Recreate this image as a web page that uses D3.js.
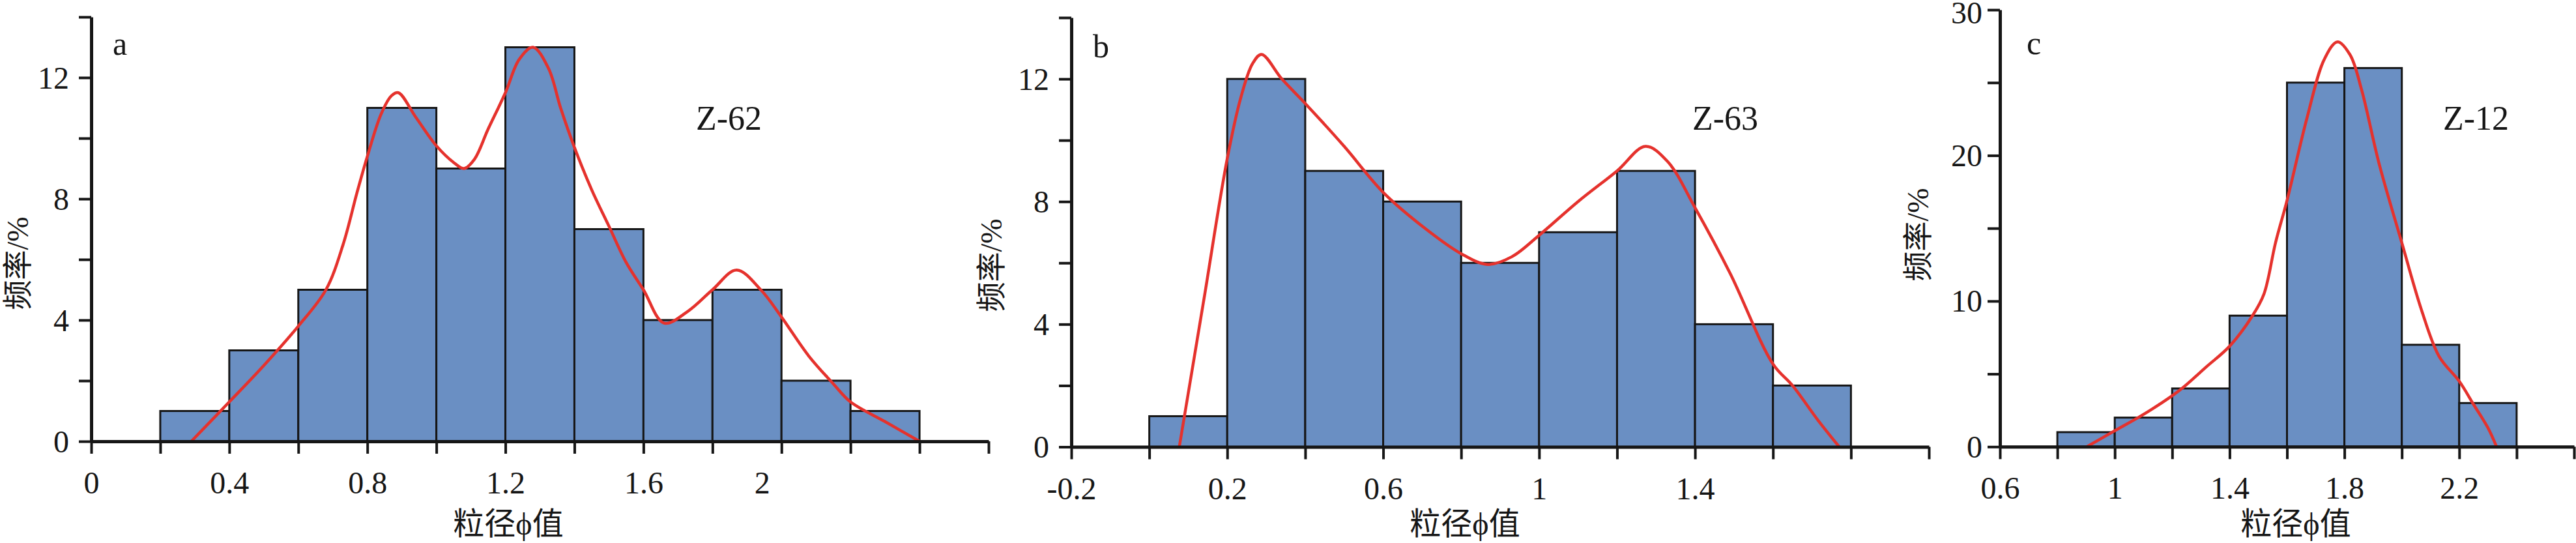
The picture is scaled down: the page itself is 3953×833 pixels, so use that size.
<!DOCTYPE html>
<html><head><meta charset="utf-8">
<script src="https://cdn.jsdelivr.net/npm/d3@7/dist/d3.min.js"></script>
<style>html,body{margin:0;padding:0;background:#fff;} svg{display:block;background:#fff;}</style>
</head><body><svg id="chart" width="3953" height="833"></svg>
<script>
// ---------- DATA ----------
// Panel a (Z-62)
const aBinStart = [0.2,0.4,0.6,0.8,1.0,1.2,1.4,1.6,1.8,2.0,2.2];
const aFreq     = [1,3,5,11,9,13,7,4,5,2,1];
const aCurveX = [0.29,0.4,0.5,0.6,0.68,0.73,0.77,0.8,0.84,0.87,0.89,0.94,1.0,1.05,1.08,1.11,1.15,1.2,1.24,1.28,1.325,1.36,1.4,1.45,1.5,1.55,1.6,1.66,1.73,1.8,1.87,1.94,2.0,2.08,2.15,2.2,2.3,2.4];
const aCurveY = [0,1.3,2.5,3.8,5.0,6.5,8.2,9.4,10.8,11.4,11.5,10.7,9.75,9.2,9.0,9.3,10.3,11.5,12.6,13.0,12.3,11.0,9.7,8.3,7.1,5.9,5.0,3.9,4.3,5.0,5.65,5.0,4.1,2.8,1.9,1.3,0.65,0];
const aXTicks = [0,0.2,0.4,0.6,0.8,1.0,1.2,1.4,1.6,1.8,2.0,2.2,2.4,2.6];
const aXLabelVals = [0,0.4,0.8,1.2,1.6,2];
const aXLabels = ["0","0.4","0.8","1.2","1.6","2"];
const aYTicks = [0,2,4,6,8,10,12,14];
const aYLabelVals = [0,4,8,12];
const aYLabels = ["0","4","8","12"];

// Panel b (Z-63)
const bBinStart = [0.0,0.2,0.4,0.6,0.8,1.0,1.2,1.4,1.6];
const bFreq     = [1,12,9,8,6,7,9,4,2];
const bCurveX = [0.077,0.14,0.2,0.235,0.265,0.288,0.34,0.4,0.5,0.6,0.71,0.8,0.868,0.93,1.0,1.1,1.2,1.273,1.33,1.4,1.49,1.6,1.65,1.716,1.77];
const bCurveY = [0,4.8,9.4,11.4,12.5,12.8,12.0,11.2,9.8,8.3,7.1,6.3,5.95,6.2,6.9,8.0,9.0,9.8,9.3,7.8,5.66,2.7,2.0,0.86,0];
const bXTicks = [-0.2,0,0.2,0.4,0.6,0.8,1.0,1.2,1.4,1.6,1.8,2.0];
const bXLabelVals = [-0.2,0.2,0.6,1,1.4];
const bXLabels = ["-0.2","0.2","0.6","1","1.4"];
const bYTicks = [0,2,4,6,8,10,12,14];
const bYLabelVals = [0,4,8,12];
const bYLabels = ["0","4","8","12"];

// Panel c (Z-12)
const cBinStart = [0.8,1.0,1.2,1.4,1.6,1.8,2.0,2.2];
const cFreq     = [1,2,4,9,25,26,7,3];
const cCurveX = [0.903,1.0,1.09,1.2,1.24,1.32,1.4,1.48,1.52,1.56,1.6,1.67,1.73,1.776,1.82,1.86,1.92,2.0,2.07,2.13,2.2,2.25,2.3,2.33];
const cCurveY = [0,1.1,2.1,3.5,4.1,5.5,6.9,9.0,10.5,14.0,16.9,22.6,26.6,27.8,26.9,24.5,19.5,14.0,9.3,6.2,4.5,2.9,1.3,0];
const cXTicks = [0.6,0.8,1.0,1.2,1.4,1.6,1.8,2.0,2.2,2.4,2.6];
const cXLabelVals = [0.6,1,1.4,1.8,2.2];
const cXLabels = ["0.6","1","1.4","1.8","2.2"];
const cYTicks = [0,5,10,15,20,25,30];
const cYLabelVals = [0,10,20,30];
const cYLabels = ["0","10","20","30"];

const binWidth = 0.2;
const xTitle = "粒径ϕ值";
const yTitle = "频率/%";

// ---------- DRAW ----------
const svg = d3.select("#chart");
const FONT = '"Liberation Serif","Times New Roman",serif';
const TFONT = '"Liberation Serif","DejaVu Serif","Noto Sans CJK SC",serif';
const INK = "#161616";

function labelFor(v, vals, labels) {
  const i = vals.findIndex(a => Math.abs(a - v) < 1e-9);
  return i >= 0 ? labels[i] : "";
}

function drawPanel(p) {
  const x = d3.scaleLinear().domain(p.xDomain).range(p.xRange);
  const y = d3.scaleLinear().domain(p.yDomain).range(p.yRange);
  const g = svg.append("g");

  g.selectAll("rect.bar")
    .data(p.binStart.map((s, i) => ({ s: s, f: p.freq[i] })))
    .join("rect").attr("class", "bar")
    .attr("x", d => x(d.s))
    .attr("width", d => x(d.s + binWidth) - x(d.s))
    .attr("y", d => y(d.f))
    .attr("height", d => y(0) - y(d.f))
    .attr("fill", "#6a8fc3")
    .attr("stroke", INK).attr("stroke-width", 3);

  const line = d3.line().x(d => x(d[0])).y(d => y(d[1]))
    .curve(d3.curveCatmullRom.alpha(0.5));
  g.append("path")
    .datum(p.curveX.map((v, i) => [v, p.curveY[i]]))
    .attr("d", line).attr("fill", "none")
    .attr("stroke", "#e5322d").attr("stroke-width", 4.5)
    .attr("stroke-linejoin", "round").attr("stroke-linecap", "round");

  const xAxis = d3.axisBottom(x).tickValues(p.xTicks).tickSize(19).tickSizeOuter(0)
    .tickFormat(v => labelFor(v, p.xLabelVals, p.xLabels));
  const gx = g.append("g").attr("transform", `translate(0,${y(0)})`).call(xAxis);
  gx.select(".domain").attr("stroke", INK).attr("stroke-width", 5);
  gx.selectAll(".tick line").attr("stroke", INK).attr("stroke-width", 4);
  gx.selectAll(".tick text")
    .attr("y", 80).attr("dy", 0)
    .attr("dx", v => (p.xNudge && Math.abs(v - p.xNudge.v) < 1e-9) ? p.xNudge.dx : 0)
    .attr("font-family", FONT).attr("font-size", 48).attr("fill", INK);

  const yAxis = d3.axisLeft(y).tickValues(p.yTicks).tickSize(19).tickSizeOuter(0)
    .tickPadding(p.yPad)
    .tickFormat(v => labelFor(v, p.yLabelVals, p.yLabels));
  const gy = g.append("g").attr("transform", `translate(${x(p.xDomain[0])},0)`).call(yAxis);
  gy.select(".domain").attr("stroke", INK).attr("stroke-width", 5);
  gy.selectAll(".tick line").attr("stroke", INK).attr("stroke-width", 4);
  gy.selectAll(".tick text")
    .attr("dy", v => (p.yNudge && Math.abs(v - p.yNudge.v) < 1e-9) ? (16 + p.yNudge.dy) + "px" : "16px")
    .attr("font-family", FONT).attr("font-size", 48).attr("fill", INK);

  g.append("text").attr("x", p.letterPos[0]).attr("y", p.letterPos[1])
    .attr("font-family", FONT).attr("font-size", 50).attr("fill", INK).text(p.letter);
  g.append("text").attr("x", p.namePos[0]).attr("y", p.namePos[1])
    .attr("font-family", FONT).attr("font-size", 52).attr("fill", INK).text(p.name);

  g.append("text").attr("x", p.xTitlePos[0]).attr("y", p.xTitlePos[1])
    .attr("text-anchor", "middle").attr("font-family", TFONT)
    .attr("font-size", 48).attr("fill", INK).text(xTitle);
  g.append("text")
    .attr("transform", `translate(${p.yTitlePos[0]},${p.yTitlePos[1]}) rotate(-90)`)
    .attr("text-anchor", "middle").attr("dominant-baseline", "central")
    .attr("font-family", TFONT).attr("font-size", 46).attr("fill", INK).text(yTitle);
}

drawPanel({
  binStart: aBinStart, freq: aFreq, curveX: aCurveX, curveY: aCurveY,
  xTicks: aXTicks, xLabelVals: aXLabelVals, xLabels: aXLabels,
  yTicks: aYTicks, yLabelVals: aYLabelVals, yLabels: aYLabels,
  xDomain: [0, 2.6], xRange: [140, 1517], yDomain: [0, 14], yRange: [677, 26],
  yPad: 15, xNudge: { v: 2, dx: -30 },
  letter: "a", letterPos: [173, 84], name: "Z-62", namePos: [1068, 199],
  xTitlePos: [780, 820], yTitlePos: [27, 404]
});
drawPanel({
  binStart: bBinStart, freq: bFreq, curveX: bCurveX, curveY: bCurveY,
  xTicks: bXTicks, xLabelVals: bXLabelVals, xLabels: bXLabels,
  yTicks: bYTicks, yLabelVals: bYLabelVals, yLabels: bYLabels,
  xDomain: [-0.2, 2.0], xRange: [1644, 2960], yDomain: [0, 14], yRange: [685.5, 27],
  yPad: 15,
  letter: "b", letterPos: [1677, 88], name: "Z-63", namePos: [2597, 199],
  xTitlePos: [2248, 820], yTitlePos: [1521, 407]
});
drawPanel({
  binStart: cBinStart, freq: cFreq, curveX: cCurveX, curveY: cCurveY,
  xTicks: cXTicks, xLabelVals: cXLabelVals, xLabels: cXLabels,
  yTicks: cYTicks, yLabelVals: cYLabelVals, yLabels: cYLabels,
  xDomain: [0.6, 2.6], xRange: [3069, 3950], yDomain: [0, 30], yRange: [685.3, 15],
  yPad: 8, yNudge: { v: 30, dy: 4 },
  letter: "c", letterPos: [3110, 83], name: "Z-12", namePos: [3749, 199],
  xTitlePos: [3523, 820], yTitlePos: [2943, 360]
});
</script>
</body></html>
